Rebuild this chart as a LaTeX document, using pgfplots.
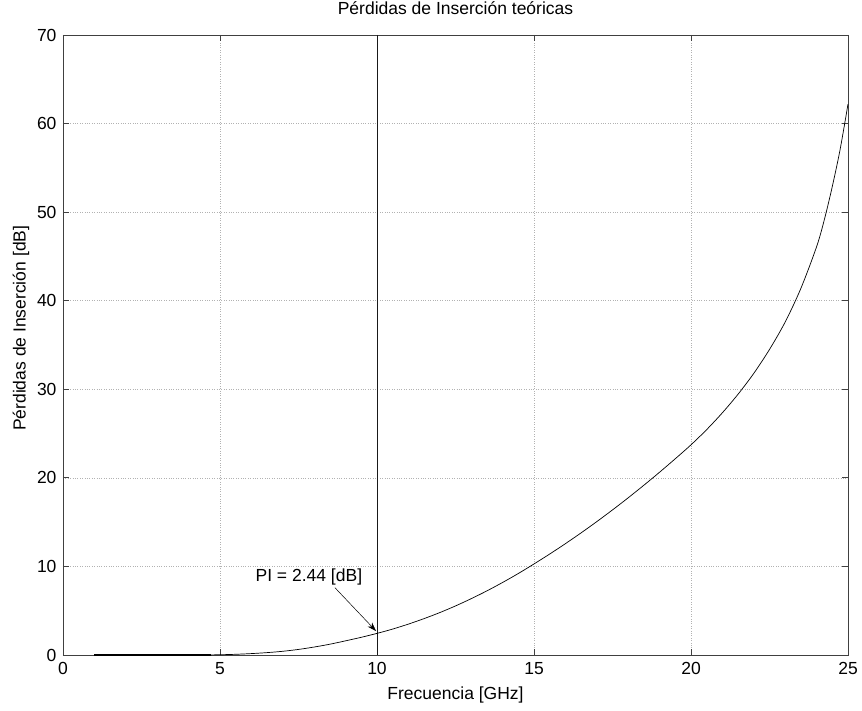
\documentclass[border=0pt]{standalone}
\usepackage{pgfplots}
\pgfplotsset{compat=1.18}
\usepackage{fontspec}
\setmainfont{Liberation Sans}
\usetikzlibrary{arrows.meta}
\begin{document}
\begin{tikzpicture}
\useasboundingbox (-63pt,-55pt) rectangle (799pt,655pt);
\begin{axis}[
  scale only axis,
  width=785pt, height=620pt,
  xmin=0, xmax=25, ymin=0, ymax=70,
  xtick={0,5,...,25}, ytick={0,10,...,70},
  tick align=inside, tick pos=both,
  major tick length=6pt,
  grid=major,
  major grid style={gray!60, dotted, line width=0.7pt},
  axis line style={black!75, line width=0.8pt},
  every tick/.style={black!75, line width=0.8pt},
  /pgf/number format/assume math mode=true,
  tick label style={font=\fontsize{17.5}{20}\selectfont},
  xticklabel style={yshift=-4pt},
  yticklabel style={xshift=-3pt},
  xlabel={Frecuencia [GHz]},
  ylabel={Pérdidas de Inserción [dB]},
  xlabel style={font=\fontsize{17.5}{20}\selectfont, at={(axis description cs:0.5,0)}, anchor=center, yshift=-40pt},
  ylabel style={font=\fontsize{17.5}{20}\selectfont, at={(axis description cs:0,0.527)}, anchor=center, yshift=42pt},
  title={Pérdidas de Inserción teóricas},
  title style={font=\fontsize{17.5}{20}\selectfont, at={(axis description cs:0.5,1)}, anchor=center, yshift=21pt},
]
\addplot[black!90, line width=0.9pt] coordinates {
(10,0) (10,70)};
\addplot[black, line width=1.6pt] coordinates {(1,0) (4.7,0)};
\addplot[black, line width=0.7pt, smooth] coordinates {
(1,0) (2,0) (3,0) (4,0) (4.5,0) (5,0.03) (5.5,0.08) (6,0.16) (6.5,0.27) (7,0.42)
(7.5,0.63) (8,0.9) (8.5,1.22) (9,1.6) (9.5,2.0) (10,2.44)
(10.5,2.93) (11,3.49) (11.5,4.11) (12,4.79) (12.5,5.54) (13,6.36) (13.5,7.24)
(14,8.19) (14.5,9.20) (15,10.28) (15.5,11.40) (16,12.57) (16.5,13.79) (17,15.06)
(17.5,16.38) (18,17.75) (18.5,19.17) (19,20.64) (19.5,22.16) (20,23.73)
(20.5,25.45) (21,27.35) (21.5,29.45) (22,31.8) (22.5,34.5) (23,37.6) (23.5,41.4)
(24,46.1) (24.25,49.2) (24.5,52.9) (24.75,57.1) (25,62.2)};
\draw[-{Stealth[length=9pt,width=6pt]}, black, line width=0.5pt] (axis cs:8.66,7.6) -- (axis cs:9.97,2.7);
\node[font=\fontsize{17.5}{20}\selectfont] at (axis cs:7.83,8.8) {PI = 2.44 [dB]};
\end{axis}
\end{tikzpicture}
\end{document}
